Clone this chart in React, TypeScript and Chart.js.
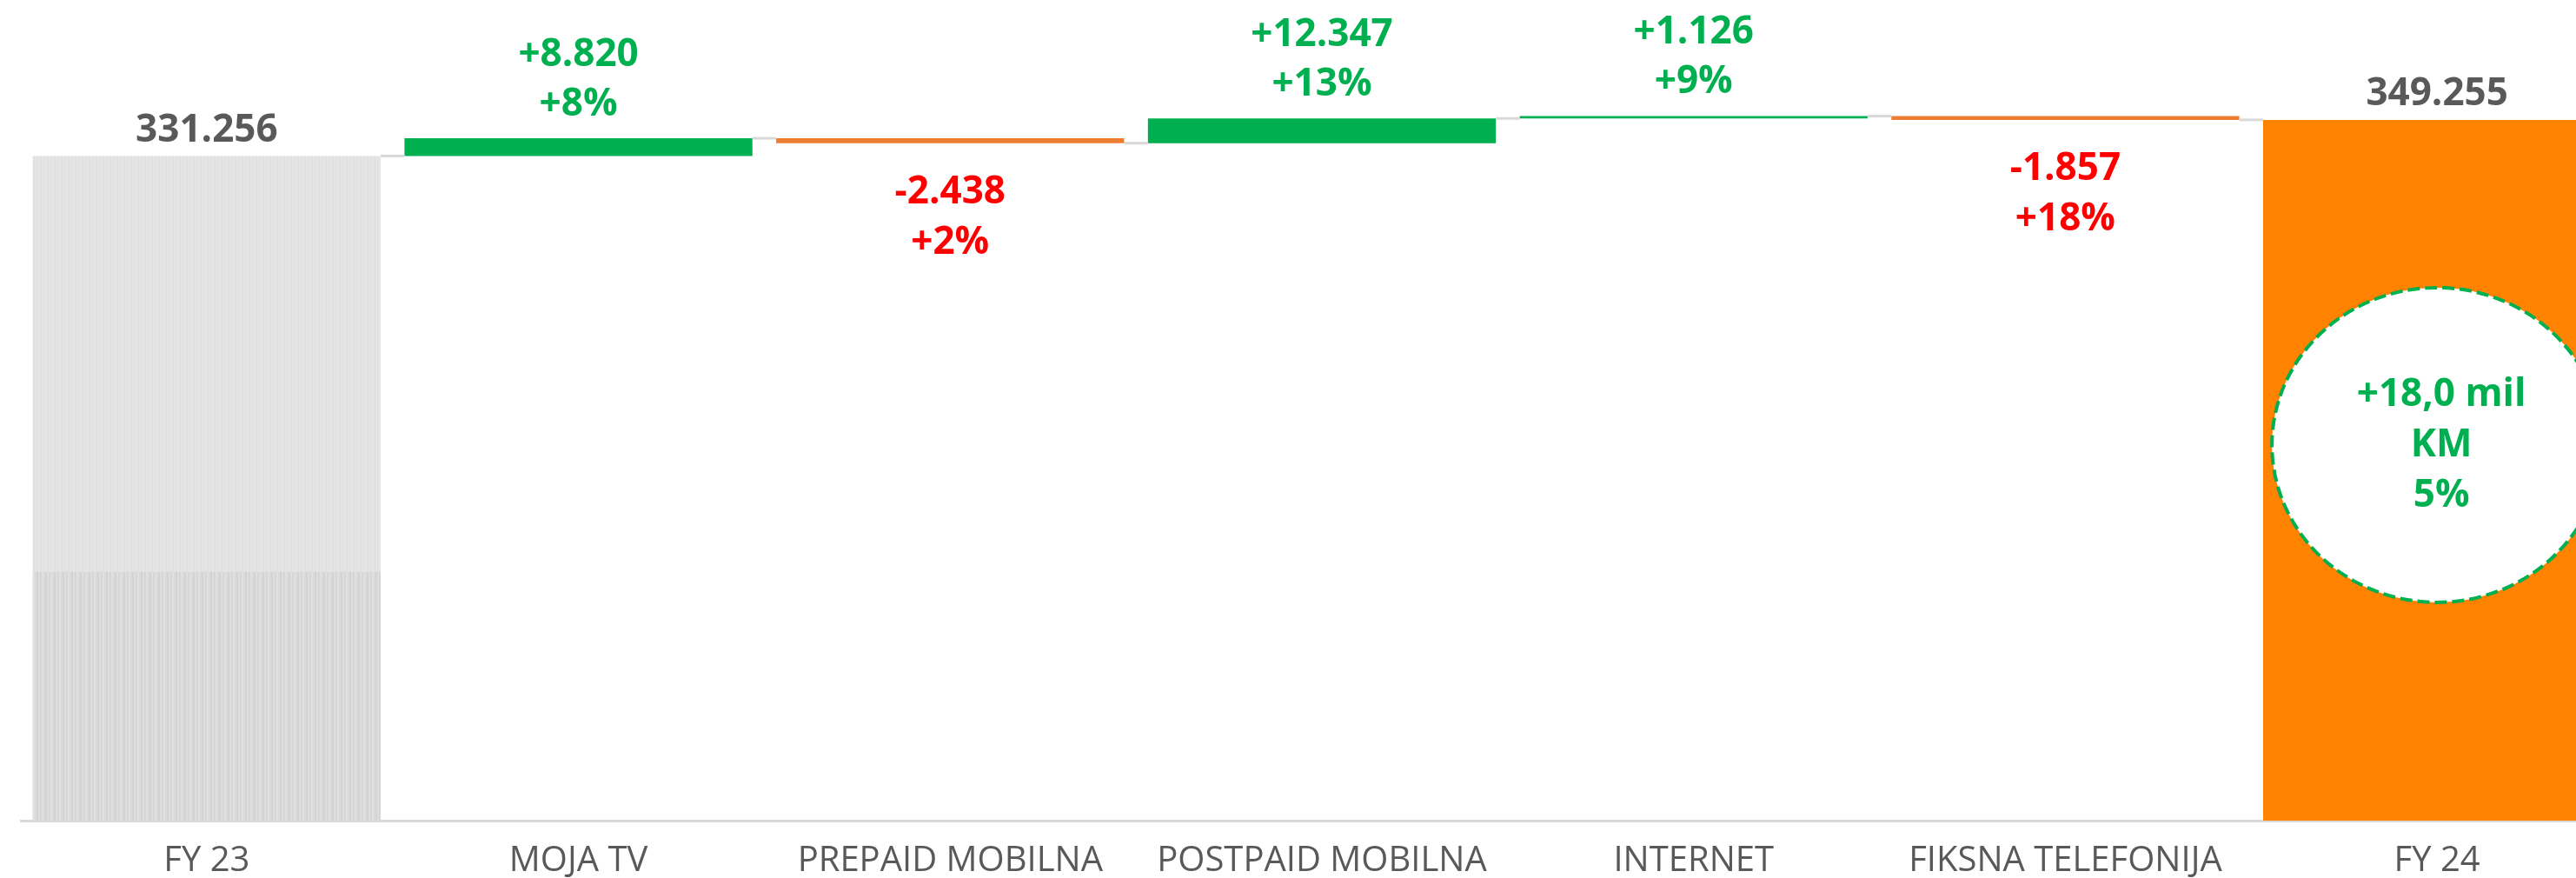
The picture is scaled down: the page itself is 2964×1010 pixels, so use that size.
import React, { useEffect, useRef } from "react";
import { Chart, registerables } from "chart.js";

Chart.register(...registerables);

const categories = [
  "FY 23",
  "MOJA TV",
  "PREPAID MOBILNA",
  "POSTPAID MOBILNA",
  "INTERNET",
  "FIKSNA TELEFONIJA",
  "FY 24",
];
const totals: (number | null)[] = [331256, null, null, null, null, null, 349255];
const deltas: (number | null)[] = [null, 8820, -2438, 12347, 1126, -1857, null];
const valueLabels = ["331.256", "+8.820", "-2.438", "+12.347", "+1.126", "-1.857", "349.255"];
const pctLabels = ["", "+8%", "+2%", "+13%", "+9%", "+18%", ""];
const fy23LowerShade = 124000;
const summaryLines = ["+18,0 mil", "KM", "5%"];
const yMax = 409000;

const GREEN = "#00b050";
const RED_TEXT = "#ff0000";
const DEC_BAR = "#ed7d31";
const TOTAL_END = "#ff8200";
const GREY_TEXT = "#595959";
const FONT = "'Open Sans', 'DejaVu Sans', sans-serif";

function stripes(colors: string[], w: number): CanvasPattern | string {
  const c = document.createElement("canvas");
  c.width = colors.length * w;
  c.height = 4;
  const g = c.getContext("2d");
  if (!g) return colors[0];
  colors.forEach((col, i) => {
    g.fillStyle = col;
    g.fillRect(i * w, 0, w, 4);
  });
  return g.createPattern(c, "repeat") || colors[0];
}

export default function App() {
  const ref = useRef<HTMLCanvasElement | null>(null);

  useEffect(() => {
    document.body.style.margin = "0";
    document.body.style.overflow = "hidden";
    const canvas = ref.current;
    if (!canvas) return;

    const ranges: [number, number][] = [];
    const ends: number[] = [];
    let running = 0;
    categories.forEach((_, i) => {
      const t = totals[i];
      if (t !== null && t !== undefined) {
        ranges.push([0, t]);
        running = t;
      } else {
        const d = deltas[i] || 0;
        ranges.push([running, running + d]);
        running += d;
      }
      ends.push(running);
    });

    const upperPattern = stripes(["#e5e5e5", "#e2e2e2", "#e6e6e6", "#e0e0e0"], 2);
    const lowerPattern = stripes(["#dadada", "#d3d3d3", "#dedede", "#d6d6d6", "#e0e0e0"], 2);

    const colors = categories.map((_, i) => {
      if (i === 0) return upperPattern;
      if (i === categories.length - 1) return TOTAL_END;
      return (deltas[i] || 0) >= 0 ? GREEN : DEC_BAR;
    });

    const shadeData = categories.map((_, i) => (i === 0 ? [0, fy23LowerShade] : null));

    const overlay = {
      id: "waterfallOverlay",
      afterDatasetsDraw(chart: any) {
        const ctx: CanvasRenderingContext2D = chart.ctx;
        const meta = chart.getDatasetMeta(0);
        const yScale = chart.scales.y;
        ctx.save();
        ctx.strokeStyle = "#d9d9d9";
        ctx.lineWidth = 3;
        for (let i = 0; i < categories.length - 1; i++) {
          const a = meta.data[i];
          const b = meta.data[i + 1];
          const y = yScale.getPixelForValue(ends[i]);
          ctx.beginPath();
          ctx.moveTo(a.x + a.width / 2, y);
          ctx.lineTo(b.x - b.width / 2, y);
          ctx.stroke();
        }
        ctx.textAlign = "center";
        ctx.textBaseline = "middle";
        ctx.font = `bold 44px ${FONT}`;
        categories.forEach((_, i) => {
          const el = meta.data[i];
          const top = Math.min(el.y, el.base);
          const bottom = Math.max(el.y, el.base);
          const isTotal = totals[i] !== null && totals[i] !== undefined;
          if (isTotal) {
            ctx.fillStyle = GREY_TEXT;
            ctx.fillText(valueLabels[i], el.x, top - 29);
          } else if ((deltas[i] || 0) >= 0) {
            ctx.fillStyle = GREEN;
            ctx.fillText(valueLabels[i], el.x, top - 96);
            ctx.fillText(pctLabels[i], el.x, top - 39);
          } else {
            ctx.fillStyle = RED_TEXT;
            ctx.fillText(valueLabels[i], el.x, bottom + 57);
            ctx.fillText(pctLabels[i], el.x, bottom + 115);
          }
        });
        const last = meta.data[categories.length - 1];
        const lastTop = Math.min(last.y, last.base);
        const cx = last.x;
        const cy = lastTop + 374;
        ctx.beginPath();
        ctx.ellipse(cx, cy, 190, 181, 0, 0, Math.PI * 2);
        ctx.fillStyle = "#ffffff";
        ctx.fill();
        ctx.setLineDash([14, 6]);
        ctx.lineWidth = 4;
        ctx.strokeStyle = GREEN;
        ctx.stroke();
        ctx.setLineDash([]);
        ctx.fillStyle = GREEN;
        ctx.font = `bold 44px ${FONT}`;
        summaryLines.forEach((line, k) => {
          ctx.fillText(line, last.x + 5, cy - 57 + k * 58);
        });
        ctx.restore();
      },
    };

    const chart = new Chart(canvas, {
      type: "bar",
      data: {
        labels: categories,
        datasets: [
          {
            data: ranges as any,
            backgroundColor: colors as any,
            borderWidth: 0,
            grouped: false,
            categoryPercentage: 1,
            barPercentage: 0.936,
            order: 2,
          } as any,
          {
            data: shadeData as any,
            backgroundColor: lowerPattern as any,
            borderWidth: 0,
            grouped: false,
            categoryPercentage: 1,
            barPercentage: 0.936,
            order: 1,
          } as any,
        ],
      },
      options: {
        animation: false,
        responsive: false,
        maintainAspectRatio: false,
        layout: { padding: { left: 24, right: 0, top: 0, bottom: 1 } },
        plugins: { legend: { display: false }, tooltip: { enabled: false } },
        scales: {
          x: {
            grid: { display: false },
            border: { display: true, color: "#d9d9d9", width: 3 },
            ticks: {
              color: GREY_TEXT,
              font: { family: FONT, size: 40 },
              padding: 15,
              autoSkip: false,
              maxRotation: 0,
              minRotation: 0,
            },
          },
          y: { display: false, min: 0, max: yMax },
        },
      },
      plugins: [overlay],
    });
    return () => chart.destroy();
  }, []);

  return (
    <div style={{ width: 2964, height: 1010, overflow: "hidden", background: "#ffffff" }}>
      <canvas ref={ref} width={3018} height={1031} style={{ display: "block" }} />
    </div>
  );
}
